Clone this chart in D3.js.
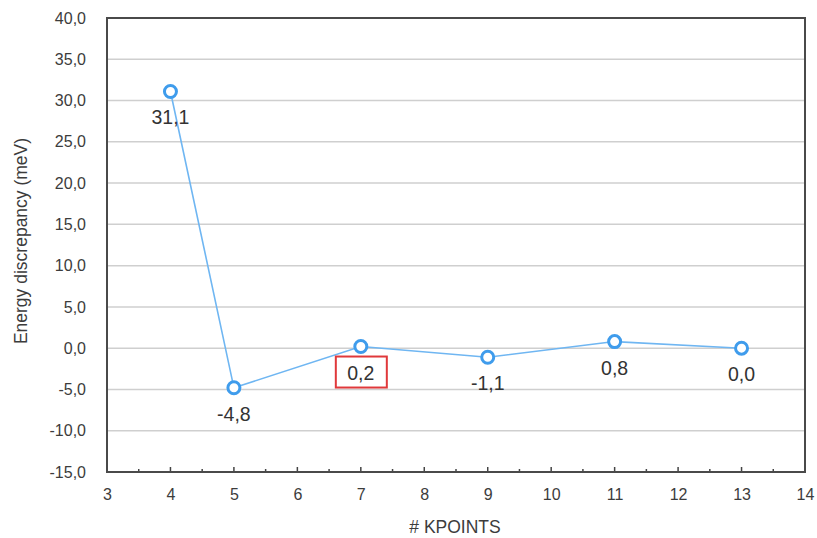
<!DOCTYPE html>
<html><head><meta charset="utf-8">
<script src="https://cdn.jsdelivr.net/npm/d3@7"></script>
<style>body{margin:0;background:#fff;}svg{display:block;font-family:"Liberation Sans",Arial,sans-serif;}</style>
</head><body><svg id="c" width="817" height="538"></svg>
<script>
const kpoints = [4, 5, 7, 9, 11, 13];
const discrepancy = [31.1, -4.8, 0.2, -1.1, 0.8, 0.0];
const highlighted = [7];
const yTicks = [-15, -10, -5, 0, 5, 10, 15, 20, 25, 30, 35, 40];
const xTicks = [3, 4, 5, 6, 7, 8, 9, 10, 11, 12, 13, 14];

const svg = d3.select("#c");
const L = 107, R = 805, T = 18, B = 472;
const x = d3.scaleLinear().domain([3, 14]).range([L, R]);
const y = d3.scaleLinear().domain([-15, 40]).range([B, T]);
const fmt = v => d3.format(".1f")(v).replace(".", ",").replace("−", "-");

// gridlines
svg.append("g").selectAll("line").data(yTicks.filter(d => d > -15 && d < 40)).join("line")
  .attr("x1", L).attr("x2", R).attr("y1", d => y(d)).attr("y2", d => y(d))
  .attr("stroke", "#cfcfcf").attr("stroke-width", 1.5);

// y axis labels
const ya = svg.append("g").attr("transform", `translate(${L},0)`)
  .call(d3.axisLeft(y).tickValues(yTicks).tickFormat(fmt).tickSize(0).tickPadding(21));
ya.select(".domain").remove();
ya.selectAll("text").attr("font-size", 16).attr("fill", "#3c3c3c").attr("font-family", "Liberation Sans, Arial, sans-serif");

// x axis labels
const xa = svg.append("g").attr("transform", `translate(0,${B})`)
  .call(d3.axisBottom(x).tickValues(xTicks).tickFormat(d3.format("d")).tickSize(0).tickPadding(17));
xa.select(".domain").remove();
xa.selectAll("text").attr("font-size", 16).attr("fill", "#3c3c3c").attr("font-family", "Liberation Sans, Arial, sans-serif");

// x ticks (inside, upward)
const minor = d3.range(3.5, 14, 1);
svg.append("g").selectAll("line").data(xTicks).join("line")
  .attr("x1", d => x(d)).attr("x2", d => x(d)).attr("y1", B).attr("y2", B - 5)
  .attr("stroke", "#444").attr("stroke-width", 1.5);
svg.append("g").selectAll("line").data(minor).join("line")
  .attr("x1", d => x(d)).attr("x2", d => x(d)).attr("y1", B).attr("y2", B - 3)
  .attr("stroke", "#444").attr("stroke-width", 1.5);

// frame
svg.append("rect").attr("x", L).attr("y", T).attr("width", R - L).attr("height", B - T)
  .attr("fill", "none").attr("stroke", "#4a4a4a").attr("stroke-width", 2);

// titles
svg.append("text").attr("x", 455).attr("y", 533).attr("text-anchor", "middle")
  .attr("font-size", 17.5).attr("fill", "#3c3c3c").text("# KPOINTS");
svg.append("text").attr("transform", `translate(27,241) rotate(-90)`)
  .attr("text-anchor", "middle").attr("font-size", 17.5).attr("fill", "#3c3c3c").text("Energy discrepancy (meV)");

const data = kpoints.map((k, i) => ({ k, v: discrepancy[i] }));

// line
svg.append("path").datum(data)
  .attr("d", d3.line().x(d => x(d.k)).y(d => y(d.v)))
  .attr("fill", "none").attr("stroke", "#6fb6f2").attr("stroke-width", 1.6);

// markers
svg.append("g").selectAll("circle").data(data).join("circle")
  .attr("cx", d => x(d.k)).attr("cy", d => y(d.v)).attr("r", 6)
  .attr("fill", "#fff").attr("stroke", "#3f9cec").attr("stroke-width", 3);

// labels
svg.append("g").selectAll("text").data(data).join("text")
  .attr("x", d => x(d.k)).attr("y", d => y(d.v) + 33)
  .attr("text-anchor", "middle").attr("font-size", 19.5).attr("fill", "#333")
  .text(d => fmt(d.v));

// highlight box
svg.append("g").selectAll("rect").data(data.filter(d => highlighted.includes(d.k))).join("rect")
  .attr("x", d => x(d.k) - 25).attr("y", d => y(d.v) + 10)
  .attr("width", 51).attr("height", 31)
  .attr("fill", "none").attr("stroke", "#e0393b").attr("stroke-width", 2);
</script></body></html>
